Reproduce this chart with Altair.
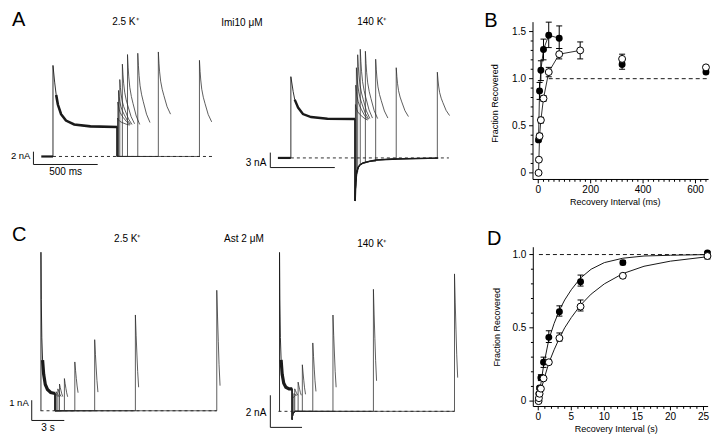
import altair as alt
import pandas as pd

# ======================= DATA =======================
# Panel A, Imi 10 uM -- time in ms, current in nA
A_INTERVALS = [2.5, 5, 10, 20, 40, 80, 160, 320, 640]
A_SHAPE_T = [0, 5, 10, 18, 30, 43, 68, 95]            # test-pulse decay (ms after onset)
A_SHAPE_F = [1, 0.82, 0.68, 0.53, 0.40, 0.30, 0.12, 0]  # fraction of (peak - end)

A1_HOLD_T = [-91, 0]
A1_COND_T = [0, 0, 13, 25, 38, 63, 101, 165, 292, 500]
A1_COND_I = [0, 14.2, 11.6, 9.6, 8.1, 6.6, 5.6, 5.0, 4.7, 4.6]
A1_TAIL_T = [500]
A1_TAIL_I = [0.0]
A1_PEAK = [6.0, 8.5, 10.3, 12.0, 14.4, 15.9, 16.1, 16.3, 15.0]
A1_END = [4.9, 5.0, 5.0, 5.0, 5.1, 5.0, 5.3, 6.6, 5.4]
A1_BASE_T = [0, 1240]
A1_BAR_T = [-152, -152, 348]
A1_BAR_I = [0.75, -1.25, -1.25]

A2_HOLD_T = [-101, 0]
A2_COND_T = [0, 0, 18, 30, 56, 94, 157, 285, 500]
A2_COND_I = [0, 16.3, 13.3, 11.7, 10.1, 8.8, 8.2, 7.85, 7.8]
A2_TAIL_T = [500, 505, 513, 525, 538, 563, 614, 665, 789, 995, 1147]
A2_TAIL_I = [-8.6, -4.7, -2.8, -1.84, -1.39, -1.0, -0.68, -0.43, -0.23, -0.1, 0]
A2_PEAK = [10.7, 14.6, 18.1, 20.7, 21.8, 21.4, 19.8, 18.1, 17.2]
A2_END = [7.6, 7.7, 7.8, 7.9, 8.0, 7.9, 8.0, 8.3, 8.5]
A2_BASE_T = [0, 1230]
A2_BAR_T = [-160, -160, 342]
A2_BAR_I = [1.07, -1.93, -1.93]

# Panel C, Ast 2 uM -- time in s, current in nA
C_SHAPE_T = [0, 0.07, 0.14, 0.21, 0.3]
C_SHAPE_F = [1, 0.72, 0.46, 0.22, 0]

C1_COND_T = [0, 0, 0.03, 0.08, 0.15, 0.25, 0.4, 0.6, 0.9, 1.3]
C1_COND_I = [0, 7.83, 5.5, 3.6, 2.5, 1.8, 1.3, 1.05, 0.9, 0.85]
C1_TAIL_T = [1.3]
C1_TAIL_I = [0.0]
C1_ONSET = [1.32, 1.41, 1.56, 1.71, 2.16, 3.12, 4.95, 8.7, 16.2]
C1_PEAK = [0.84, 0.94, 1.08, 1.32, 1.59, 2.41, 3.51, 4.73, 5.95]
C1_END = [0.7, 0.7, 0.7, 0.7, 0.69, 0.89, 0.92, 1.16, 1.24]
C1_BASE_T = [-0.04, 16.2]
C1_BAR_T = [-0.85, -0.85, 2.15]
C1_BAR_I = [0.52, -0.48, -0.48]

C2_COND_T = [0, 0, 0.03, 0.08, 0.15, 0.25, 0.4, 0.6, 0.9, 1.2]
C2_COND_I = [0, 9.9, 7.0, 4.6, 3.2, 2.3, 1.75, 1.5, 1.4, 1.4]
C2_TAIL_T = [1.2, 1.25, 1.35, 1.5]
C2_TAIL_I = [-0.5, -0.2, -0.05, 0]
C2_ONSET = [1.23, 1.35, 1.44, 1.76, 2.16, 3.15, 5.06, 8.89, 16.57]
C2_PEAK = [0.8, 1.1, 1.4, 1.82, 2.9, 4.26, 6.0, 7.6, 8.56]
C2_END = [1.0, 1.0, 1.0, 1.0, 1.06, 1.24, 1.5, 1.9, 2.1]
C2_BASE_T = [-0.1, 16.57]
C2_BAR_T = [-0.87, -0.87, 2.13]
C2_BAR_I = [1.0, -1.0, -1.0]

# Panel B -- recovery interval (ms) vs fraction recovered
B_FILLED_X = [1, 5, 10, 20, 40, 80, 320, 640]
B_FILLED_Y = [0.35, 0.87, 1.09, 1.31, 1.46, 1.43, 1.15, 1.07]
B_FILLED_LO = [0.33, 0.78, 0.98, 1.20, 1.33, 1.32, 1.10, 1.05]
B_FILLED_HI = [0.37, 0.96, 1.19, 1.42, 1.60, 1.56, 1.19, 1.09]
B_FILLED_LINKED = 6
B_OPEN_X = [1.25, 2.5, 5, 10, 20, 40, 80, 160, 320, 640]
B_OPEN_Y = [0.0, 0.14, 0.39, 0.56, 0.79, 1.07, 1.26, 1.30, 1.21, 1.12]
B_OPEN_LO = [0.0, 0.12, 0.36, 0.53, 0.76, 1.02, 1.21, 1.21, 1.17, 1.10]
B_OPEN_HI = [0.0, 0.16, 0.42, 0.59, 0.82, 1.12, 1.32, 1.39, 1.26, 1.14]
B_OPEN_LINKED = 8
B_REF_X = [40, 650]
B_XTICKS = [0, 200, 400, 600]
B_XTICK_LABELS = ["0", "200", "400", "600"]
B_YTICKS = [0, 0.5, 1.0, 1.5]
B_YTICK_LABELS = ["0", "0.5", "1.0", "1.5"]

# Panel D -- recovery interval (s) vs fraction recovered
D_FILLED_X = [0.1, 0.2, 0.4, 0.8, 1.6, 3.2, 6.4, 12.8, 25.6]
D_FILLED_Y = [0.05, 0.09, 0.16, 0.265, 0.435, 0.61, 0.815, 0.945, 1.01]
D_FILLED_LO = [0.04, 0.08, 0.14, 0.23, 0.40, 0.58, 0.785, 0.93, 1.0]
D_FILLED_HI = [0.06, 0.10, 0.18, 0.30, 0.48, 0.65, 0.86, 0.96, 1.02]
D_OPEN_X = [0.05, 0.1, 0.2, 0.4, 0.8, 1.6, 3.2, 6.4, 12.8, 25.6]
D_OPEN_Y = [0.0, 0.02, 0.05, 0.085, 0.155, 0.265, 0.43, 0.645, 0.855, 0.99]
D_OPEN_LO = [0.0, 0.015, 0.045, 0.08, 0.145, 0.25, 0.41, 0.615, 0.84, 0.97]
D_OPEN_HI = [0.0, 0.025, 0.055, 0.09, 0.165, 0.28, 0.465, 0.69, 0.87, 1.0]
D_FIT_T = [0, 0.4, 0.8, 1.6, 2.4, 3.2, 4, 5, 6.4, 8, 10, 12.8, 16, 20, 25.6]
D_FIT_FILLED = [0.0, 0.12, 0.24, 0.42, 0.53, 0.62, 0.69, 0.76, 0.84, 0.90, 0.945, 0.975, 0.99, 0.995, 1.0]
D_FIT_OPEN = [0.0, 0.07, 0.14, 0.26, 0.35, 0.43, 0.50, 0.57, 0.655, 0.73, 0.80, 0.87, 0.92, 0.955, 0.985]
D_REF_X = [0.1, 25.7]
D_XTICKS = [0, 5, 10, 15, 20, 25]
D_XTICK_LABELS = ["0", "5", "10", "15", "20", "25"]
D_YTICKS = [0, 0.5, 1.0]
D_YTICK_LABELS = ["0", "0.5", "1.0"]

# ======================= LAYOUT =======================
KX = 704 / 720
KY = 431 / 447
FONT = "Liberation Sans"
INK = "#1a1a1a"


def xsc(dom, org, ppu):
    return alt.Scale(domain=dom, range=[round((org + d * ppu) * KX, 2) for d in dom],
                     zero=False, nice=False)


def ysc(dom, org, ppu):
    return alt.Scale(domain=dom, range=[round((org - d * ppu) * KY, 2) for d in dom],
                     zero=False, nice=False)


SC = {
    "A1": (xsc([-200, 1300], 46.0, 1 / 7.61), ysc([-3, 17], 154.0, 6.65)),
    "A2": (xsc([-200, 1300], 289.3, 1 / 7.61), ysc([-10, 23], 155.5, 5.17)),
    "C1": (xsc([-1, 17], 33.7, 11.1), ysc([-1, 8.5], 417.7, 21.0)),
    "C2": (xsc([-1, 17], 277.7, 10.8), ysc([-1.5, 10.5], 418.3, 16.65)),
    "B": (xsc([-20, 650], 542.3, 0.268), ysc([-0.07, 1.6], 171.0, 97.7)),
    "D": (xsc([-0.75, 25.7], 542.3, 6.76), ysc([-0.037, 1.05], 407.7, 152.0)),
}


def XY(p, xf="x", yf="y"):
    xs, ys = SC[p]
    return dict(x=alt.X(f"{xf}:Q", scale=xs, axis=None),
                y=alt.Y(f"{yf}:Q", scale=ys, axis=None))


def poly(xs, ys):
    return pd.DataFrame({"x": xs, "y": ys, "s": 0, "n": list(range(len(xs)))})


def line(df, p, width=0.8, color=INK, dash=None):
    mk = dict(color=color, strokeWidth=width, opacity=1)
    if dash:
        mk["strokeDash"] = dash
    return alt.Chart(df).mark_line(**mk).encode(
        **XY(p), detail="s:N", order="n:Q")


def sweeps(cond_t, cond_i, tail_t, tail_i, onsets, peaks, ends, sh_t, sh_f):
    rows = []
    for k, (on, pk, en) in enumerate(zip(onsets, peaks, ends)):
        seq = [(cond_t[-1], cond_i[-1])]
        for tt, ii in zip(tail_t, tail_i):
            if tt <= on:
                seq.append((tt, ii))
        seq.append((on, seq[-1][1]))
        for st, sf in zip(sh_t, sh_f):
            seq.append((on + st, en + (pk - en) * sf))
        for j, (t, i) in enumerate(seq):
            rows.append({"x": t, "y": i, "s": k, "n": j})
    return pd.DataFrame(rows)


def text(s, x, y, size=10, align="center", angle=0, baseline="middle"):
    kw = dict(text=s, font=FONT, fontSize=size, align=align, baseline=baseline, color="black")
    if angle:
        kw["angle"] = angle
    return alt.Chart(pd.DataFrame({"k": [0]})).mark_text(**kw).encode(
        x=alt.value(round(x * KX, 2)), y=alt.value(round(y * KY, 2)))


def dtext(p, s, x, y, dx=0, dy=0, align="center", size=10):
    return alt.Chart(pd.DataFrame({"x": [x], "y": [y]})).mark_text(
        text=s, font=FONT, fontSize=size, align=align, baseline="middle",
        dx=dx, dy=dy, color="black").encode(**XY(p))


layers = []

# ---------- trace panels ----------
A1_ON = [500 + v for v in A_INTERVALS]
A2_ON = [500 + v for v in A_INTERVALS]
trace_specs = [
    ("A1", A1_COND_T, A1_COND_I, A1_TAIL_T, A1_TAIL_I, A1_ON, A1_PEAK, A1_END, A_SHAPE_T, A_SHAPE_F,
     A1_BASE_T, A1_BAR_T, A1_BAR_I, 25, 2.6),
    ("A2", A2_COND_T, A2_COND_I, A2_TAIL_T, A2_TAIL_I, A2_ON, A2_PEAK, A2_END, A_SHAPE_T, A_SHAPE_F,
     A2_BASE_T, A2_BAR_T, A2_BAR_I, 30, 2.4),
    ("C1", C1_COND_T, C1_COND_I, C1_TAIL_T, C1_TAIL_I, C1_ONSET, C1_PEAK, C1_END, C_SHAPE_T, C_SHAPE_F,
     C1_BASE_T, C1_BAR_T, C1_BAR_I, 0.12, 3.2),
    ("C2", C2_COND_T, C2_COND_I, C2_TAIL_T, C2_TAIL_I, C2_ONSET, C2_PEAK, C2_END, C_SHAPE_T, C_SHAPE_F,
     C2_BASE_T, C2_BAR_T, C2_BAR_I, 0.12, 3.2),
]
for (p, ct, ci, tt, ti, on, pk, en, sht, shf, bt, bart, bari, thick_from, thick_w) in trace_specs:
    layers.append(line(poly(bt, [0, 0]), p, width=0.9, dash=[3, 3]))
    layers.append(line(poly(bart, bari), p, width=1))
    layers.append(line(sweeps(ct, ci, tt, ti, on, pk, en, sht, shf), p, width=0.75, color="#2a2a2a"))
    if p == "A2":
        layers.append(line(poly(tt, ti), p, width=1.6))
    layers.append(line(poly(ct, ci), p, width=0.9))
    cdf = poly(ct, ci)
    cdf = cdf[cdf["x"] >= thick_from].reset_index(drop=True)
    layers.append(line(cdf, p, width=thick_w))

layers.append(line(poly(A1_HOLD_T, [0, 0]), "A1", width=2.2))
layers.append(line(poly(A2_HOLD_T, [0, 0]), "A2", width=2.2))

# scale-bar labels
layers.append(dtext("A1", "2 nA", A1_BAR_T[0], 0.0, dx=-3, align="right", size=9.5))
layers.append(dtext("A1", "500 ms", (A1_BAR_T[1] + A1_BAR_T[2]) / 2, A1_BAR_I[2], dy=7.5))
layers.append(dtext("A2", "3 nA", A2_BAR_T[0], -1.0, dx=-4, align="right"))
layers.append(dtext("C1", "1 nA", C1_BAR_T[0], 0.4, dx=-3, align="right", size=9.5))
layers.append(dtext("C1", "3 s", (C1_BAR_T[1] + C1_BAR_T[2]) / 2, C1_BAR_I[2], dy=8))
layers.append(dtext("C2", "2 nA", C2_BAR_T[0], -0.1, dx=-4, align="right"))


# ---------- B and D scatter panels ----------
def axes(p, xdom, ydom, xt, xl, xminor, yt, yl, yminor, xlen, ylen):
    x0, y0 = xdom[0], ydom[0]
    out = []
    frame = pd.DataFrame({"x": [xdom[0], x0], "y": [y0, ydom[0]],
                          "x2": [xdom[1], x0], "y2": [y0, ydom[1]]})
    ticks = []
    for v in xt:
        ticks.append((v, y0, v, y0 - xlen))
    for v in xminor:
        ticks.append((v, y0, v, y0 - xlen * 0.6))
    for v in yt:
        ticks.append((x0, v, x0 - ylen, v))
    for v in yminor:
        ticks.append((x0, v, x0 - ylen * 0.6, v))
    tdf = pd.DataFrame(ticks, columns=["x", "y", "x2", "y2"])
    for df in (frame, tdf):
        out.append(alt.Chart(df).mark_rule(color="black", strokeWidth=1).encode(
            **XY(p), x2="x2:Q", y2="y2:Q"))
    out.append(alt.Chart(pd.DataFrame({"x": xt, "y": [y0] * len(xt), "t": xl})).mark_text(
        font=FONT, fontSize=10, baseline="middle", align="center", dy=10.5, color="black").encode(
        **XY(p), text="t:N"))
    out.append(alt.Chart(pd.DataFrame({"x": [x0] * len(yt), "y": yt, "t": yl})).mark_text(
        font=FONT, fontSize=10, baseline="middle", align="right", dx=-7, color="black").encode(
        **XY(p), text="t:N"))
    return out


def scatter(p, fx, fy, flo, fhi, fn, ox, oy, olo, ohi, on, refx, fits=None):
    out = []
    out.append(line(poly(refx, [1.0, 1.0]), p, width=1, dash=[4, 3]))
    if fits:
        for ft, fv in fits:
            out.append(line(poly(ft, fv), p, width=1))
    if fn:
        out.append(line(poly(fx[:fn], fy[:fn]), p, width=0.9))
    if on:
        out.append(line(poly(ox[:on], oy[:on]), p, width=0.9))
    for xs, lo, hi in ((fx, flo, fhi), (ox, olo, ohi)):
        edf = pd.DataFrame({"x": xs, "lo": lo, "hi": hi})
        out.append(alt.Chart(edf).mark_rule(color="black", strokeWidth=1).encode(
            **XY(p, "x", "lo"), y2="hi:Q"))
        for col in ("lo", "hi"):
            out.append(alt.Chart(edf).mark_tick(orient="horizontal", size=6, thickness=1,
                                                color="black", opacity=1).encode(**XY(p, "x", col)))
    out.append(alt.Chart(pd.DataFrame({"x": fx, "y": fy})).mark_point(
        shape="circle", size=48, filled=True, color="black", opacity=1).encode(**XY(p)))
    out.append(alt.Chart(pd.DataFrame({"x": ox, "y": oy})).mark_point(
        shape="circle", size=48, filled=True, fill="white", stroke="black", strokeWidth=1,
        opacity=1).encode(**XY(p)))
    return out


layers += axes("B", [-20, 650], [-0.07, 1.6], B_XTICKS, B_XTICK_LABELS,
               [v for v in range(20, 650, 20) if v not in B_XTICKS],
               B_YTICKS, B_YTICK_LABELS,
               [round(v * 0.1, 1) for v in range(1, 16) if v % 5],
               0.041, 14.9)
layers += scatter("B", B_FILLED_X, B_FILLED_Y, B_FILLED_LO, B_FILLED_HI, B_FILLED_LINKED,
                  B_OPEN_X, B_OPEN_Y, B_OPEN_LO, B_OPEN_HI, B_OPEN_LINKED, B_REF_X)

layers += axes("D", [-0.75, 25.7], [-0.037, 1.05], D_XTICKS, D_XTICK_LABELS,
               [v for v in range(1, 26) if v % 5],
               D_YTICKS, D_YTICK_LABELS,
               [round(v * 0.1, 1) for v in range(1, 10) if v % 5],
               0.026, 0.59)
layers += scatter("D", D_FILLED_X, D_FILLED_Y, D_FILLED_LO, D_FILLED_HI, 0,
                  D_OPEN_X, D_OPEN_Y, D_OPEN_LO, D_OPEN_HI, 0, D_REF_X,
                  fits=[(D_FIT_T, D_FIT_FILLED), (D_FIT_T, D_FIT_OPEN)])

# ---------- text ----------
layers += [
    text("A", 4, 12.5, size=20, align="left"),
    text("B", 487, 13, size=20, align="left"),
    text("C", 4, 235, size=20, align="left"),
    text("D", 490, 240, size=20, align="left"),
    text("2.5 K⁺", 120, 15),
    text("Imi10 μM", 218, 15.5, align="left"),
    text("140 K⁺", 372, 15),
    text("2.5 K⁺", 122, 240),
    text("Ast 2 μM", 221, 240, align="left"),
    text("140 K⁺", 372, 245),
    text("Fraction Recovered", 498, 99, size=9, angle=270),
    text("Recovery Interval (ms)", 621, 201, size=9),
    text("Fraction Recovered", 500, 331, size=9, angle=270),
    text("Recovery Interval (s)", 622, 437, size=9),
]

chart = alt.layer(*layers).resolve_scale(x="independent", y="independent").properties(
    width=704, height=431, padding=0,
    autosize=alt.AutoSizeParams(type="none"),
    background="white",
).configure_view(stroke=None)

chart.save("out.html", embed_options={"renderer": "svg", "actions": False})
